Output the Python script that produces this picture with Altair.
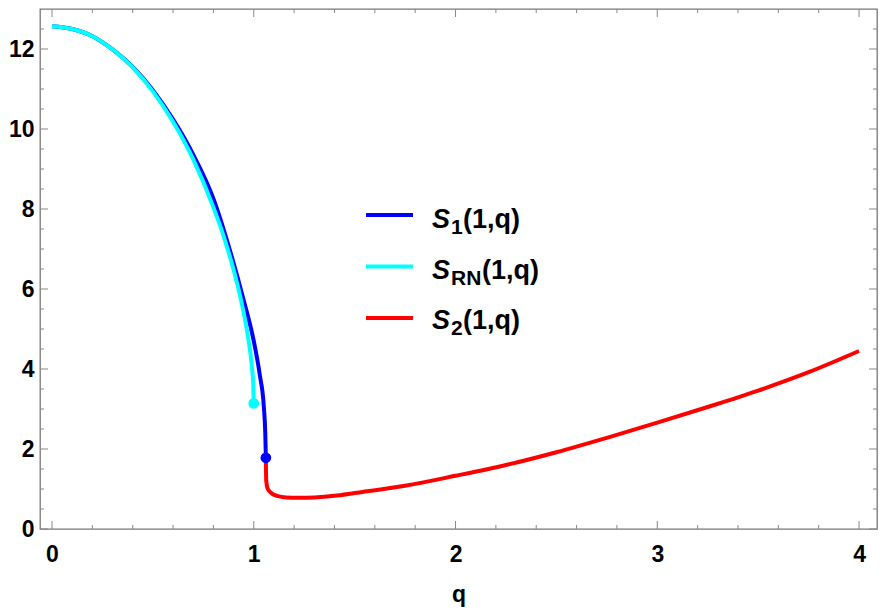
import altair as alt
import pandas as pd

# ---- data ----
q_rn = [0.0, 0.1, 0.2, 0.3, 0.4, 0.5, 0.6, 0.7, 0.8, 0.85, 0.9, 0.94, 0.97, 0.99, 0.997, 1.0]
s_rn = [12.57, 12.50, 12.32, 11.99, 11.54, 10.94, 10.18, 9.24, 8.04, 7.33, 6.48, 5.65, 4.85, 4.09, 3.65, 3.14]

q_1 = [0.0, 0.1, 0.2, 0.3, 0.4, 0.5, 0.6, 0.7, 0.8, 0.88, 0.95, 1.0, 1.03, 1.05, 1.057, 1.06]
s_1 = [12.57, 12.50, 12.32, 11.99, 11.55, 10.97, 10.24, 9.36, 8.26, 7.0, 5.72, 4.7, 3.85, 3.05, 2.4, 1.78]

q_2 = [1.06, 1.0605, 1.062, 1.068, 1.08, 1.095, 1.12, 1.16, 1.22, 1.3, 1.4, 1.5, 1.75, 2.0,
       2.25, 2.5, 2.75, 3.0, 3.25, 3.5, 3.75, 4.0]
s_2 = [1.78, 1.5, 1.2, 1.02, 0.93, 0.87, 0.82, 0.79, 0.78, 0.79, 0.83, 0.9, 1.08, 1.33,
       1.6, 1.92, 2.28, 2.66, 3.05, 3.46, 3.92, 4.45]

end_q = [1.06, 1.0]
end_s = [1.78, 3.14]
end_name = ["S1", "SRN"]

x_major = [0, 1, 2, 3, 4]
x_minor = [round(0.2 * i, 1) for i in range(1, 20) if i % 5 != 0]
y_major = [0, 2, 4, 6, 8, 10, 12]
y_minor = [0.5, 1, 1.5, 2.5, 3, 3.5, 4.5, 5, 5.5, 6.5, 7, 7.5, 8.5, 9, 9.5, 10.5, 11, 11.5, 12.5]

legend_sub = ["1", "RN", "2"]
legend_colors = ["#0000ff", "#00ffff", "#ff0000"]

# ---- layout / style ----
W, H = 837, 520
FONT = "Liberation Sans"
GRAY = "#888888"
LBL = 23
xs = alt.Scale(domain=[-0.0595, 4.089], nice=False, zero=False)
ys = alt.Scale(domain=[0, 13], nice=False, zero=False)

XAXIS = alt.Axis(values=x_major, ticks=False, tickSize=0, domain=False, grid=False,
                 labelFont=FONT, labelFontSize=LBL, labelFontWeight="bold", labelColor="black",
                 labelPadding=14, titleFont=FONT, titleFontSize=LBL, titleFontWeight="bold",
                 titleColor="black", titlePadding=17)
YAXIS = alt.Axis(values=y_major, ticks=False, tickSize=0, domain=False, grid=False,
                 labelFont=FONT, labelFontSize=LBL, labelFontWeight="bold", labelColor="black",
                 labelPadding=6)

def X(field):
    return alt.X(field, scale=xs, axis=XAXIS, title="q")

def Y(field):
    return alt.Y(field, scale=ys, axis=YAXIS, title=None)

def curve(qs, ss, color):
    df = pd.DataFrame({"q": qs, "s": ss})
    return alt.Chart(df).mark_line(color=color, strokeWidth=4, interpolate="monotone").encode(
        x=X("q:Q"), y=Y("s:Q"))

def xticks(vals, length):
    df = pd.DataFrame({"v": vals})
    b = alt.Chart(df).mark_rule(color=GRAY, strokeWidth=1).encode(
        x=X("v:Q"), y=alt.value(H), y2=alt.value(H - length))
    t = alt.Chart(df).mark_rule(color=GRAY, strokeWidth=1).encode(
        x=X("v:Q"), y=alt.value(0), y2=alt.value(length))
    return b + t

def yticks(vals, length):
    df = pd.DataFrame({"v": vals})
    l = alt.Chart(df).mark_rule(color=GRAY, strokeWidth=1).encode(
        y=Y("v:Q"), x=alt.value(0), x2=alt.value(length))
    r = alt.Chart(df).mark_rule(color=GRAY, strokeWidth=1).encode(
        y=Y("v:Q"), x=alt.value(W), x2=alt.value(W - length))
    return l + r

ends = pd.DataFrame({"q": end_q, "s": end_s, "name": end_name})
blue_pt = alt.Chart(ends[ends.name == "S1"]).mark_circle(color="#0000ff", size=115, opacity=1).encode(
    x=X("q:Q"), y=Y("s:Q"))
cyan_pt = alt.Chart(ends[ends.name == "SRN"]).mark_circle(color="#00ffff", size=115, opacity=1).encode(
    x=X("q:Q"), y=Y("s:Q"))

# ---- custom legend (S italic, subscript, "(1,q)") ----
one = pd.DataFrame({"a": [0]})
leg_layers = []
line_y = [206, 257.5, 309]
base_y = [219, 269.5, 320]
paren_x = [423, 442, 423]
for i in range(3):
    leg_layers.append(alt.Chart(one).mark_rule(color=legend_colors[i], strokeWidth=4).encode(
        x=alt.value(326), x2=alt.value(373), y=alt.value(line_y[i])))
    leg_layers.append(alt.Chart(one).mark_text(
        text="S", font=FONT, fontSize=27, fontWeight="bold", fontStyle="italic",
        align="left", baseline="alphabetic", color="black").encode(
        x=alt.value(392), y=alt.value(base_y[i])))
    leg_layers.append(alt.Chart(one).mark_text(
        text=legend_sub[i], font=FONT, fontSize=21, fontWeight="bold",
        align="left", baseline="alphabetic", color="black").encode(
        x=alt.value(411), y=alt.value(base_y[i] + 6)))
    leg_layers.append(alt.Chart(one).mark_text(
        text="(1,q)", font=FONT, fontSize=27, fontWeight="bold",
        align="left", baseline="alphabetic", color="black").encode(
        x=alt.value(paren_x[i]), y=alt.value(base_y[i])))

chart = alt.layer(
    xticks(x_major, 8), xticks(x_minor, 4),
    yticks(y_major, 8), yticks(y_minor, 4),
    curve(q_2, s_2, "#ff0000"),
    curve(q_1, s_1, "#0000ff"),
    curve(q_rn, s_rn, "#00ffff"),
    blue_pt, cyan_pt,
    *leg_layers,
).properties(
    width=W, height=H,
    autosize=alt.AutoSizeParams(type="none"),
    padding={"left": 32, "top": 1, "right": 3, "bottom": 78},
    background="white",
).configure_view(stroke="#777777", strokeWidth=1.3)

chart.save("out.html", embed_options={"renderer": "svg", "actions": False})
